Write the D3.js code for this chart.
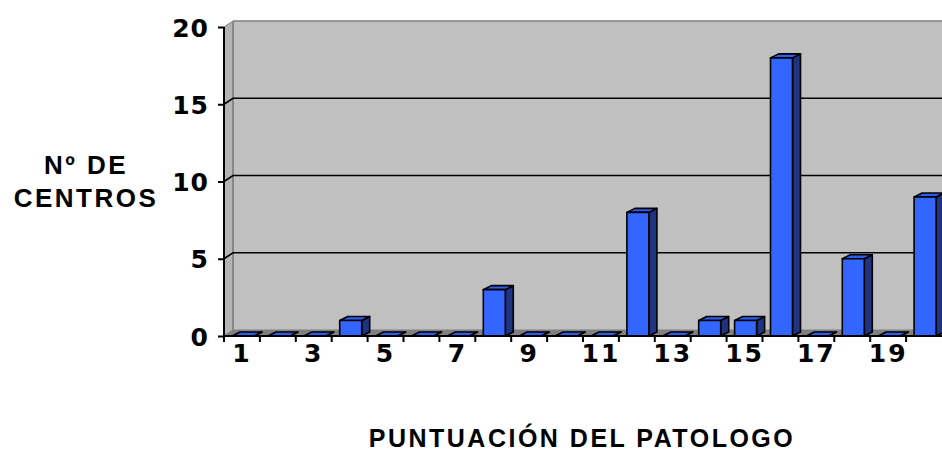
<!DOCTYPE html>
<html><head><meta charset="utf-8">
<script src="https://cdn.jsdelivr.net/npm/d3@7"></script>
<style>body{margin:0;background:#fff}svg{display:block}</style>
</head><body>
<svg id="c" width="942" height="451"></svg>
<script>
const categories = [1,2,3,4,5,6,7,8,9,10,11,12,13,14,15,16,17,18,19,20];
const values = [0,0,0,1,0,0,0,3,0,0,0,8,0,1,1,18,0,5,0,9];
const yTicks = [0,5,10,15,20];
const xTickLabels = ["1","3","5","7","9","11","13","15","17","19"];
const yTitle = ["Nº DE","CENTROS"];
const xTitle = "PUNTUACIÓN DEL PATOLOGO";

const svg = d3.select("#c");
const x0 = 224, x1 = 942, yBot = 336, yTop = 27;
const wdx = 9, wdy = -6;      // wall depth
const bdx = 8, bdy = -4;      // bar depth
const x = d3.scaleBand().domain(categories).range([x0, x1]).paddingInner(0).paddingOuter(0);
const y = d3.scaleLinear().domain([0, 20]).range([yBot, yTop]);
const poly = pts => "M" + pts.map(p => p.join(",")).join("L") + "Z";

// back wall
svg.append("rect").attr("x", x0 + wdx).attr("y", yTop + wdy).attr("width", 1000).attr("height", yBot - yTop)
  .attr("fill", "#c0c0c0");
// side wall
svg.append("path").attr("d", poly([[x0, yTop],[x0+wdx, yTop+wdy],[x0+wdx, yBot+wdy],[x0, yBot]]))
  .attr("fill", "#b4b4b4").attr("stroke", "#808080").attr("stroke-width", 1);
// floor
svg.append("path").attr("d", poly([[x0, yBot],[x0+wdx, yBot+wdy],[x1+wdx+20, yBot+wdy],[x1+20, yBot]]))
  .attr("fill", "#808080").attr("stroke", "#808080");
// wall borders
svg.append("line").attr("x1", x0+wdx).attr("x2", 1000).attr("y1", yTop+wdy).attr("y2", yTop+wdy)
  .attr("stroke", "#808080").attr("stroke-width", 1.5);
svg.append("line").attr("x1", x0+wdx).attr("x2", x0+wdx).attr("y1", yTop+wdy).attr("y2", yBot+wdy)
  .attr("stroke", "#808080").attr("stroke-width", 1.5);

// gridlines
yTicks.filter(t => t > 0 && t < 20).forEach(t => {
  svg.append("path").attr("d", `M${x0},${y(t)}L${x0+wdx},${y(t)+wdy}L${x1+20},${y(t)+wdy}`)
    .attr("fill", "none").attr("stroke", "#000").attr("stroke-width", 1.6);
});

// bars
const faceOff = 8, faceW = 22;
const g = svg.append("g").attr("stroke", "#000").attr("stroke-width", 1.6).attr("stroke-linejoin", "round");
categories.forEach((c, i) => {
  const v = values[i];
  const bx = x(c) + faceOff, by = y(v), bw = faceW, bh = yBot - y(v);
  g.append("path").attr("d", poly([[bx+bw, by],[bx+bw+bdx, by+bdy],[bx+bw+bdx, yBot+bdy],[bx+bw, yBot]]))
    .attr("fill", "#1f3380");
  g.append("path").attr("d", poly([[bx, by],[bx+bdx, by+bdy],[bx+bw+bdx, by+bdy],[bx+bw, by]]))
    .attr("fill", "#2f5ce8");
  if (bh > 0) g.append("rect").attr("x", bx).attr("y", by).attr("width", bw).attr("height", bh)
    .attr("fill", "#3366ff");
});

// axes
const yAxis = d3.axisLeft(y).tickValues(yTicks).tickSize(6).tickPadding(6);
const ya = svg.append("g").attr("transform", `translate(${x0},0)`).call(yAxis);
ya.select(".domain").attr("stroke", "#000").attr("stroke-width", 2).attr("d", `M0,${yTop}V${yBot}`);
ya.selectAll(".tick line").attr("stroke", "#000").attr("stroke-width", 2);
ya.selectAll(".tick text").attr("font-family", "DejaVu Sans").attr("font-weight", "bold")
  .attr("font-size", 25).attr("fill", "#000").attr("dy", "0.36em").attr("x", -15)
  .attr("letter-spacing", 1);

const xAxis = d3.axisBottom(x).tickValues([]).tickSize(0);
const xa = svg.append("g").attr("transform", `translate(0,${yBot})`).call(xAxis);
xa.select(".domain").attr("stroke", "#000").attr("stroke-width", 2).attr("d", `M${x0},0H${x1}`);
categories.forEach(c => {
  xa.append("line").attr("x1", x(c)).attr("x2", x(c)).attr("y1", 0).attr("y2", 6)
    .attr("stroke", "#000").attr("stroke-width", 2);
});
categories.filter(c => xTickLabels.includes(String(c))).forEach(c => {
  xa.append("text").attr("x", x(c) + x.bandwidth()/2).attr("y", 26)
    .attr("text-anchor", "middle").attr("font-family", "DejaVu Sans").attr("font-weight", "bold")
    .attr("font-size", 25).attr("letter-spacing", 2).attr("fill", "#000").text(String(c));
});

// titles
const tf = "Liberation Sans, Arial";
svg.append("text").attr("x", 86).attr("y", 174).attr("text-anchor", "middle")
  .attr("font-family", tf).attr("font-weight", "bold").attr("font-size", 26)
  .attr("letter-spacing", 2.5).text(yTitle[0]);
svg.append("text").attr("x", 86).attr("y", 207).attr("text-anchor", "middle")
  .attr("font-family", tf).attr("font-weight", "bold").attr("font-size", 26)
  .attr("letter-spacing", 2.5).text(yTitle[1]);
svg.append("text").attr("x", 582).attr("y", 447).attr("text-anchor", "middle")
  .attr("font-family", tf).attr("font-weight", "bold").attr("font-size", 25)
  .attr("letter-spacing", 2.5).text(xTitle);
</script>
</body></html>
